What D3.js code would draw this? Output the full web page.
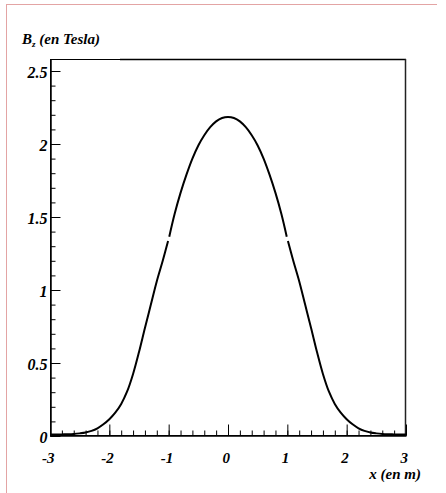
<!DOCTYPE html>
<html>
<head>
<meta charset="utf-8">
<script src="https://cdn.jsdelivr.net/npm/d3@7"></script>
<style>
  body { margin: 0; background: #fff; }
  svg text { font-family: 'Liberation Serif', 'Times New Roman', serif; font-weight: bold; font-style: italic; fill: #000; }
</style>
</head>
<body>
<div id="container"></div>
<script>
const w = 446,
  h = 493;

// field profile (three separate pieces)
const leftX = [-3.0, -2.9, -2.8, -2.7, -2.6, -2.5, -2.4, -2.3, -2.2, -2.1, -2.0, -1.9, -1.8, -1.7, -1.6, -1.5, -1.4, -1.3, -1.2, -1.1, -1.01];
const leftB = [0.010, 0.010, 0.011, 0.012, 0.014, 0.018, 0.024, 0.035, 0.053, 0.080, 0.115, 0.160, 0.220, 0.305, 0.425, 0.575, 0.740, 0.900, 1.060, 1.200, 1.335];
const midX = [-0.99, -0.9, -0.8, -0.7, -0.6, -0.5, -0.4, -0.3, -0.2, -0.1, 0.0, 0.1, 0.2, 0.3, 0.4, 0.5, 0.6, 0.7, 0.8, 0.9, 0.99];
const midB = [1.365, 1.52, 1.665, 1.79, 1.90, 1.99, 2.06, 2.115, 2.155, 2.178, 2.185, 2.178, 2.155, 2.115, 2.06, 1.99, 1.90, 1.79, 1.665, 1.52, 1.365];
const rightX = [1.01, 1.1, 1.2, 1.3, 1.4, 1.5, 1.6, 1.7, 1.8, 1.9, 2.0, 2.1, 2.2, 2.3, 2.4, 2.5, 2.6, 2.7, 2.8, 2.9, 3.0];
const rightB = [1.335, 1.200, 1.060, 0.900, 0.740, 0.575, 0.425, 0.305, 0.220, 0.160, 0.115, 0.080, 0.053, 0.035, 0.024, 0.018, 0.014, 0.012, 0.011, 0.010, 0.010];

const xMajor = [-3, -2, -1, 0, 1, 2, 3];
const xMinor = d3.range(-30, 31, 2).map((d) => d / 10);
const yMajor = [0, 0.5, 1, 1.5, 2, 2.5];
const yMinor = d3.range(0, 26, 1).map((d) => d / 10);

const xTitle = 'x (en m)';
const yTitle = 'B';
const yTitleSub = 'z';
const yTitleRest = ' (en Tesla)';

const padLeft = 50,
  padRight = 406,
  padTop = 59,
  padBottom = 436;

const serif = "'Liberation Serif', 'Times New Roman', serif";

const svg = d3.select('#container').append('svg').attr('width', w).attr('height', h);

// pad border
svg.append('line').attr('x1', 6).attr('x2', 437).attr('y1', 4.5).attr('y2', 4.5)
  .attr('stroke', '#e3a4a4').attr('stroke-width', 1);
svg.append('line').attr('x1', 6.5).attr('x2', 6.5).attr('y1', 4.5).attr('y2', h)
  .attr('stroke', '#e3a4a4').attr('stroke-width', 1);

const xScale = d3.scaleLinear().domain([-3, 3]).range([padLeft, padRight]);
const yScale = d3.scaleLinear().domain([0, (padBottom - padTop) / 146]).range([padBottom, padTop]);

// frame
svg.append('rect')
  .attr('x', padLeft + 0.5).attr('y', padTop + 0.5)
  .attr('width', padRight - padLeft - 1).attr('height', padBottom - padTop - 1)
  .attr('fill', 'none').attr('stroke', '#000').attr('stroke-width', 1);
svg.append('line')
  .attr('x1', 120).attr('x2', padRight).attr('y1', padTop + 0.5).attr('y2', padTop + 0.5)
  .attr('stroke', '#000').attr('stroke-width', 1.5);
svg.append('line')
  .attr('x1', padRight - 0.5).attr('x2', padRight - 0.5).attr('y1', padTop).attr('y2', padBottom)
  .attr('stroke', '#222').attr('stroke-width', 1.5);

// x axis: minor then major
svg.append('g')
  .attr('transform', 'translate(0,' + (padBottom - 0.5) + ')')
  .call(d3.axisBottom(xScale).tickValues(xMinor).tickSize(-5).tickSizeOuter(0).tickFormat(''))
  .call((g) => g.select('.domain').remove());

const xAxis = svg.append('g')
  .attr('transform', 'translate(0,' + (padBottom - 0.5) + ')')
  .call(d3.axisBottom(xScale).tickValues(xMajor).tickSize(-11).tickSizeOuter(0).tickPadding(17)
    .tickFormat((d) => d3.format('d')(d).replace('−', '-')));
xAxis.attr('font-family', serif);
xAxis.select('.domain').attr('stroke', '#000').attr('stroke-width', 1.5);
xAxis.selectAll('text').attr('font-size', 15).attr('dx', '-0.15em');

// y axis: minor then major
svg.append('g')
  .attr('transform', 'translate(' + (padLeft + 0.5) + ',0)')
  .call(d3.axisLeft(yScale).tickValues(yMinor).tickSize(-5).tickSizeOuter(0).tickFormat(''))
  .call((g) => g.select('.domain').remove());

const yAxis = svg.append('g')
  .attr('transform', 'translate(' + (padLeft + 0.5) + ',0)')
  .call(d3.axisLeft(yScale).tickValues(yMajor).tickSize(-10).tickSizeOuter(0).tickPadding(3)
    .tickFormat((d) => String(d)));
yAxis.attr('font-family', serif);
yAxis.select('.domain').attr('stroke', '#000').attr('stroke-width', 1.5);
yAxis.selectAll('text').attr('font-size', 16).attr('dy', '0.42em');

// curve pieces
const line = d3.line()
  .x((d) => xScale(d[0]))
  .y((d) => yScale(d[1]))
  .curve(d3.curveCatmullRom);

[[leftX, leftB], [midX, midB], [rightX, rightB]].forEach(([xs, bs]) => {
  svg.append('path')
    .datum(xs.map((x, i) => [x, bs[i]]))
    .attr('d', line)
    .attr('fill', 'none')
    .attr('stroke', '#000')
    .attr('stroke-width', 2);
});

// titles
const yt = svg.append('text').attr('x', 22).attr('y', 44).attr('font-size', 15).attr('font-family', serif);
yt.append('tspan').text(yTitle);
yt.append('tspan').text(yTitleSub).attr('font-size', 9).attr('dy', 3);
yt.append('tspan').text(yTitleRest).attr('dy', -3);

svg.append('text')
  .text(xTitle)
  .attr('x', 421)
  .attr('y', 479)
  .attr('text-anchor', 'end')
  .attr('font-family', serif)
  .attr('font-size', 15);
</script>
</body>
</html>
